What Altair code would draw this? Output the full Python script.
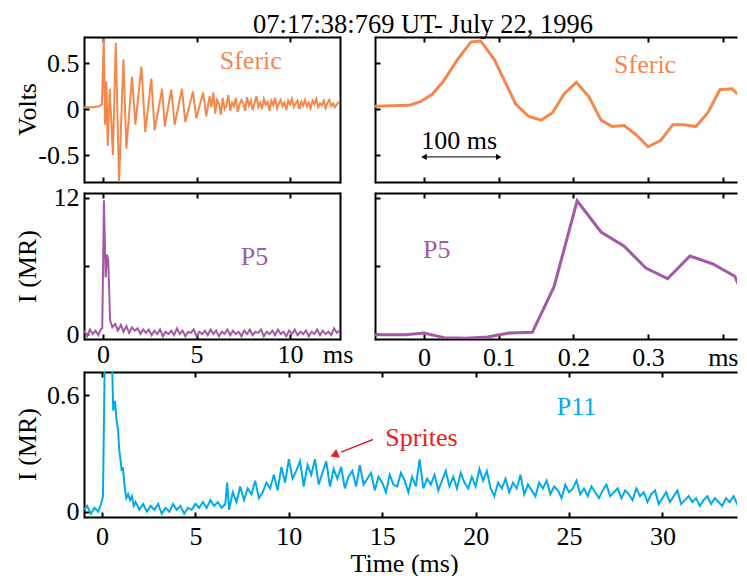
import altair as alt
import pandas as pd

FONT = "Liberation Serif"
ORANGE = "#F4874B"
PURPLE = "#A259A6"
BLUE = "#00AAEA"
RED = "#EC1C24"

TITLE = "07:17:38:769 UT- July 22, 1996"

# ---------------- data ----------------
# Sferic, full record (ms, volts)
sferic_t = [-1.05, -0.8, -0.5, -0.2, -0.06, 0.04, 0.11, 0.18, 0.25, 0.36,
            0.53, 0.68, 0.86, 1.09, 1.25, 1.55, 1.73, 2.05, 2.26, 2.58,
            2.76, 3.16, 3.30, 3.65, 3.83, 4.22, 4.40, 4.81, 4.99, 5.35,
            5.52, 5.7, 5.8, 5.9, 6.0, 6.1, 6.2, 6.3, 6.4, 6.5,
            6.6, 6.7, 6.8, 6.9, 7.0, 7.1, 7.2, 7.3, 7.4, 7.5,
            7.6, 7.7, 7.8, 7.9, 8.0, 8.1, 8.2, 8.3, 8.4, 8.5,
            8.6, 8.7, 8.8, 8.9, 9.0, 9.1, 9.2, 9.3, 9.4, 9.5,
            9.6, 9.7, 9.8, 9.9, 10.0, 10.1, 10.2, 10.3, 10.4, 10.5,
            10.6, 10.7, 10.8, 10.9, 11.0, 11.1, 11.2, 11.3, 11.4, 11.5,
            11.6, 11.7, 11.8, 11.9, 12.0, 12.1, 12.2, 12.3, 12.4, 12.6]
sferic_v = [0.02, 0.02, 0.02, 0.03, 0.05, 0.76, -0.17, 0.30, -0.40, 0.22,
            -0.50, 0.72, -0.79, 0.54, -0.43, 0.35, -0.17, 0.46, -0.25, 0.33,
            -0.23, 0.22, -0.19, 0.21, -0.17, 0.22, -0.14, 0.19, -0.10, 0.18,
            -0.08, 0.14, 0.02, 0.18, -0.05, 0.10, 0.06, -0.06, 0.12, 0.00,
            0.04, 0.15, -0.02, 0.07, 0.03, 0.12, -0.03, 0.05, 0.10, 0.06,
            -0.02, 0.13, 0.04, 0.09, -0.01, 0.06, 0.14, 0.02, 0.07, 0.00,
            0.11, 0.05, 0.08, -0.02, 0.09, 0.04, 0.12, 0.01, 0.06, 0.10,
            0.03, 0.07, -0.01, 0.09, 0.05, 0.11, 0.02, 0.06, 0.09, 0.00,
            0.08, 0.04, 0.10, 0.03, 0.07, 0.01, 0.09, 0.05, 0.11, 0.02,
            0.06, 0.04, 0.09, 0.01, 0.07, 0.10, 0.03, 0.06, 0.02, 0.08]

# Sferic, first 0.42 ms
sferic_zoom_t = [-0.066, -0.02, -0.005, 0.011, 0.025, 0.045, 0.063, 0.076, 0.094, 0.110,
                 0.123, 0.140, 0.157, 0.172, 0.188, 0.204, 0.221, 0.237, 0.252, 0.268,
                 0.284, 0.300, 0.317, 0.333, 0.348, 0.364, 0.380, 0.396, 0.412, 0.431]
sferic_zoom_v = [0.03, 0.04, 0.08, 0.16, 0.29, 0.54, 0.73, 0.74, 0.54, 0.27,
                 0.05, -0.08, -0.12, -0.04, 0.17, 0.29, 0.13, -0.12, -0.19, -0.18,
                 -0.28, -0.41, -0.34, -0.17, -0.17, -0.19, -0.04, 0.21, 0.22, 0.09]

# P5 photometer, full record (ms, MR)
p5_t = [-1.0, -0.85, -0.7, -0.55, -0.4, -0.25, -0.12, -0.04, 0.05, 0.14,
        0.22, 0.28, 0.38, 0.5, 0.65, 0.8, 0.95, 1.1, 1.25, 1.4,
        1.55, 1.7, 1.85, 2.0, 2.15, 2.3, 2.45, 2.6, 2.75, 2.9,
        3.05, 3.2, 3.35, 3.5, 3.65, 3.8, 3.95, 4.1, 4.25, 4.4,
        4.55, 4.7, 4.85, 5.0, 5.15, 5.3, 5.45, 5.6, 5.75, 5.9,
        6.05, 6.2, 6.35, 6.5, 6.65, 6.8, 6.95, 7.1, 7.25, 7.4,
        7.55, 7.7, 7.85, 8.0, 8.15, 8.3, 8.45, 8.6, 8.75, 8.9,
        9.05, 9.2, 9.35, 9.5, 9.65, 9.8, 9.95, 10.1, 10.25, 10.4,
        10.55, 10.7, 10.85, 11.0, 11.15, 11.3, 11.45, 11.6, 11.75, 11.9,
        12.05, 12.2, 12.35, 12.5, 12.65]
p5_v = [0.3, -0.2, 0.4, 0.0, 0.3, -0.1, 0.4, 0.5, 11.8, 5.0,
        7.0, 6.5, 1.2, 0.6, 0.9, 0.3, 0.8, 0.2, 0.7, 0.1,
        0.6, 0.3, 0.5, 0.0, 0.4, 0.1, 0.4, -0.1, 0.3, 0.0,
        0.4, -0.2, 0.2, 0.0, 0.3, -0.1, 0.5, 0.0, 0.3, -0.2,
        0.2, 0.1, 0.4, -0.2, 0.2, 0.0, 0.3, -0.1, 0.4, 0.0,
        0.3, -0.2, 0.2, 0.0, 0.4, -0.1, 0.3, 0.0, 0.2, -0.2,
        0.3, 0.0, 0.4, -0.1, 0.2, 0.1, 0.4, -0.2, 0.2, 0.0,
        0.3, -0.1, 0.4, 0.0, 0.2, -0.2, 0.3, 0.0, 0.4, -0.1,
        0.2, 0.0, 0.3, -0.2, 0.2, 0.0, 0.4, -0.1, 0.3, 0.0,
        0.2, -0.1, 0.5, 0.1, 0.3]

# P5, first 0.42 ms
p5_zoom_t = [-0.066, -0.025, 0.0, 0.027, 0.056, 0.085, 0.114, 0.145, 0.174, 0.205,
             0.237, 0.268, 0.297, 0.326, 0.356, 0.386, 0.416, 0.431]
p5_zoom_v = [-0.06, -0.06, 0.09, -0.32, -0.38, -0.26, 0.09, 0.15, 4.15, 11.74,
             9.0, 7.74, 5.82, 4.88, 6.88, 6.2, 5.09, 2.88]

# P11 photometer (ms, MR)
p11_t = [-0.96, -0.8, -0.6, -0.4, -0.2, -0.05, 0.05, 0.15, 0.3, 0.45,
         0.55, 0.6, 0.7, 0.78, 0.86, 0.92, 1.0, 1.05, 1.12, 1.2,
         1.3, 1.4, 1.5, 1.6, 1.7, 1.8,
         2.0, 2.2, 2.4, 2.6, 2.8, 3.0, 3.2, 3.4, 3.6, 3.8,
         4.0, 4.2, 4.4, 4.6, 4.8, 5.0, 5.2, 5.4, 5.6, 5.8,
         6.0, 6.2, 6.4, 6.6, 6.7, 6.8, 7.0, 7.2, 7.4, 7.6,
         7.8, 8.0, 8.2, 8.4, 8.6, 8.8, 9.0, 9.2, 9.4, 9.6,
         9.8, 10.0, 10.2, 10.4, 10.6, 10.8, 11.0, 11.2, 11.4, 11.6,
         11.8, 12.0, 12.2, 12.4, 12.6, 12.8, 13.0, 13.2, 13.4, 13.6,
         13.8, 14.0, 14.2, 14.4, 14.6, 14.8, 15.0, 15.2, 15.4, 15.6,
         15.8, 16.0, 16.2, 16.4, 16.6, 16.8, 17.0, 17.2, 17.4, 17.6,
         17.8, 18.0, 18.2, 18.4, 18.6, 18.8, 19.0, 19.2, 19.4, 19.6,
         19.8, 20.0, 20.2, 20.4, 20.6, 20.8, 21.0, 21.2, 21.4, 21.6,
         21.8, 22.0, 22.2, 22.4, 22.6, 22.8, 23.0, 23.2, 23.4, 23.6,
         23.8, 24.0, 24.2, 24.4, 24.6, 24.8, 25.0, 25.2, 25.4, 25.6,
         25.8, 26.0, 26.2, 26.4, 26.6, 26.8, 27.0, 27.2, 27.4, 27.6,
         27.8, 28.0, 28.2, 28.4, 28.6, 28.8, 29.0, 29.2, 29.4, 29.6,
         29.8, 30.0, 30.2, 30.4, 30.6, 30.8, 31.0, 31.2, 31.4, 31.6,
         31.8, 32.0, 32.2, 32.4, 32.6, 32.8, 33.0, 33.2, 33.4, 33.6,
         33.8, 34.0, 34.2, 34.45]
p11_v = [0.01, 0.03, -0.01, 0.02, 0.00, 0.04, 0.08, 0.80, 1.00, 0.95,
         0.72, 0.52, 0.57, 0.47, 0.42, 0.32, 0.26, 0.21, 0.23, 0.14,
         0.07, 0.09, 0.06, 0.08, 0.03, 0.05,
         0.01, 0.04, 0.00, 0.03, 0.01, 0.04, -0.01, 0.02, 0.00, 0.04,
         0.01, 0.03, -0.01, 0.02, 0.01, 0.04, 0.02, 0.05, 0.02, 0.06,
         0.03, 0.05, 0.02, 0.04, 0.15, 0.01, 0.10, 0.05, 0.13, 0.06,
         0.12, 0.09, 0.16, 0.07, 0.10, 0.15, 0.12, 0.19, 0.11, 0.23,
         0.15, 0.27, 0.17, 0.21, 0.26, 0.13, 0.24, 0.19, 0.27, 0.14,
         0.20, 0.26, 0.13, 0.22, 0.17, 0.23, 0.12, 0.18, 0.21, 0.13,
         0.24, 0.14, 0.17, 0.20, 0.11, 0.18, 0.15, 0.10, 0.19, 0.14,
         0.13, 0.20, 0.16, 0.10, 0.18, 0.13, 0.27, 0.12, 0.17, 0.14,
         0.19, 0.11, 0.16, 0.21, 0.13, 0.18, 0.12, 0.20, 0.15, 0.12,
         0.18, 0.13, 0.22, 0.16, 0.21, 0.12, 0.08, 0.15, 0.12, 0.17,
         0.10, 0.15, 0.12, 0.19, 0.09, 0.14, 0.11, 0.08, 0.15, 0.12,
         0.16, 0.09, 0.13, 0.11, 0.07, 0.14, 0.10, 0.12, 0.16, 0.09,
         0.12, 0.08, 0.13, 0.10, 0.07, 0.11, 0.14, 0.08, 0.10, 0.12,
         0.07, 0.11, 0.09, 0.06, 0.12, 0.08, 0.10, 0.05, 0.09, 0.11,
         0.04, 0.07, 0.10, 0.05, 0.08, 0.11, 0.04, 0.06, 0.08, 0.05,
         0.07, 0.03, 0.06, 0.08, 0.04, 0.07, 0.05, 0.03, 0.07, 0.05,
         0.08, 0.04, 0.06, 0.05]

# ticks and tick labels
ms_ticks_full = [0, 5, 10]
ms_labels_full = [0, 5, 10, 12.55]          # last one is the "ms" unit label
ms_ticks_zoom = [0, 0.1, 0.2, 0.3, 0.4]     # 0.4 carries the "ms" unit label
ms_ticks_p11 = [0, 5, 10, 15, 20, 25, 30]
volt_ticks = [-0.5, 0, 0.5]
p5_ticks = [0, 6, 12]
p5_labels = [0, 12]
p11_ticks = [0, 0.6]

# annotations
sferic_note = {"t": [7.9], "v": [0.52], "label": ["Sferic"]}
sferic_zoom_note = {"t": [0.296], "v": [0.48], "label": ["Sferic"]}
scale_note = {"t": [0.047], "v": [-0.35], "label": ["100 ms"]}
scale_bar = {"t": [0.0], "t2": [0.1], "v": [-0.52]}
p5_note = {"t": [8.1], "v": [6.8], "label": ["P5"]}
p5_zoom_note = {"t": [0.017], "v": [7.4], "label": ["P5"]}
p11_note = {"t": [25.4], "v": [0.54], "label": ["P11"]}
sprites_note = {"t": [17.1], "v": [0.38], "label": ["Sprites"]}
sprites_arrow = {"t": [14.5], "v": [0.372], "t2": [12.8], "v2": [0.307]}
sprites_head = {"t": [12.5], "v": [0.295]}

FS = 26
YTITLE_X = -44


def label_axis(orient, show=False, values=None, expr=None, title=None, **kw):
    cap = "square" if orient in ("left", "right") else "butt"
    d = dict(orient=orient, domain=True, domainColor="black", domainWidth=2, domainCap=cap,
             ticks=False, tickSize=0, labels=show, grid=False, labelFlush=False, labelOverlap=False,
             labelFont=FONT, labelFontSize=FS, labelColor="black",
             titleFont=FONT, titleFontSize=FS, titleFontWeight="normal", titleColor="black",
             title=title)
    if values is not None:
        d["values"] = values
    if expr is not None:
        d["labelExpr"] = expr
    d.update(kw)
    return alt.Axis(**d)


def tick_axis(orient, values):
    return alt.Axis(orient=orient, values=values, domain=False, labels=False, ticks=True,
                    tickSize=5, tickWidth=2, tickColor="black", offset=-5, grid=False, title=None)


def edge_axis(orient):
    cap = "square" if orient in ("left", "right") else "butt"
    return alt.Axis(orient=orient, domain=True, domainColor="black", domainWidth=2, domainCap=cap,
                    ticks=False, labels=False, grid=False, title=None)


def panel(df, xs, ys, w, h, xticks, yticks, xlab, ylab, right_edge, content):
    base = alt.Chart(df)

    def X(ax):
        return alt.X("t:Q", scale=xs, axis=ax)

    def Y(ax):
        return alt.Y("v:Q", scale=ys, axis=ax)

    layers = [
        base.mark_line(opacity=0, clip=True).encode(x=X(xlab), y=Y(ylab)),
        base.mark_line(opacity=0, clip=True).encode(x=X(tick_axis("bottom", xticks)),
                                                     y=Y(tick_axis("left", yticks))),
        base.mark_line(opacity=0, clip=True).encode(
            x=X(edge_axis("top")), y=Y(edge_axis("right") if right_edge else None)),
        base.mark_line(opacity=0, clip=True).encode(x=X(tick_axis("top", xticks)), y=Y(None)),
    ]
    layers += content
    return alt.layer(*layers).resolve_axis(x="independent", y="independent").properties(width=w, height=h)


def line(df, xs, ys, color, sw):
    return alt.Chart(df).mark_line(color=color, strokeWidth=sw, clip=True).encode(
        x=alt.X("t:Q", scale=xs, axis=None), y=alt.Y("v:Q", scale=ys, axis=None))


def note(d, xs, ys, color):
    return alt.Chart(pd.DataFrame(d)).mark_text(font=FONT, fontSize=FS, color=color).encode(
        x=alt.X("t:Q", scale=xs, axis=None), y=alt.Y("v:Q", scale=ys, axis=None), text="label:N")


# scales (right-hand panels are cut off at the right edge, as in the figure)
xs_full = alt.Scale(domain=[-1.016, 12.67], nice=False, zero=False)
xs_zoom = alt.Scale(domain=[-0.0656, 0.419], nice=False, zero=False)
xs_p11 = alt.Scale(domain=[-0.964, 33.99], nice=False, zero=False)
ys_volt = alt.Scale(domain=[-0.793, 0.783], nice=False, zero=False)
ys_p5 = alt.Scale(domain=[-0.44, 12.44], nice=False, zero=False)
ys_p11 = alt.Scale(domain=[-0.027, 0.719], nice=False, zero=False)

W_LEFT, W_RIGHT, W_BOT = 256, 362, 653

df_sf = pd.DataFrame({"t": sferic_t, "v": sferic_v})
df_sfz = pd.DataFrame({"t": sferic_zoom_t, "v": sferic_zoom_v})
df_p5 = pd.DataFrame({"t": p5_t, "v": p5_v})
df_p5z = pd.DataFrame({"t": p5_zoom_t, "v": p5_zoom_v})
df_p11 = pd.DataFrame({"t": p11_t, "v": p11_v})

TL = panel(df_sf, xs_full, ys_volt, W_LEFT, 145, ms_ticks_full, volt_ticks,
           label_axis("bottom"),
           label_axis("left", True, volt_ticks, "toString(datum.value)", "Volts",
                      labelPadding=5, titleX=YTITLE_X, titleY=72),
           True,
           [line(df_sf, xs_full, ys_volt, ORANGE, 2), note(sferic_note, xs_full, ys_volt, ORANGE)])

bar = alt.Chart(pd.DataFrame(scale_bar)).mark_rule(color="black", strokeWidth=1).encode(
    x=alt.X("t:Q", scale=xs_zoom, axis=None), x2="t2:Q", y=alt.Y("v:Q", scale=ys_volt, axis=None))
bar_l = alt.Chart(pd.DataFrame({"t": scale_bar["t"], "v": scale_bar["v"]})).mark_point(
    shape="triangle-left", filled=True, color="black", size=40, opacity=1).encode(
    x=alt.X("t:Q", scale=xs_zoom, axis=None), y=alt.Y("v:Q", scale=ys_volt, axis=None))
bar_r = alt.Chart(pd.DataFrame({"t": scale_bar["t2"], "v": scale_bar["v"]})).mark_point(
    shape="triangle-right", filled=True, color="black", size=40, opacity=1).encode(
    x=alt.X("t:Q", scale=xs_zoom, axis=None), y=alt.Y("v:Q", scale=ys_volt, axis=None))

TR = panel(df_sfz, xs_zoom, ys_volt, W_RIGHT, 145, ms_ticks_zoom, volt_ticks,
           label_axis("bottom"), label_axis("left"), False,
           [line(df_sfz, xs_zoom, ys_volt, ORANGE, 3), note(sferic_zoom_note, xs_zoom, ys_volt, ORANGE),
            note(scale_note, xs_zoom, ys_volt, "black"), bar, bar_l, bar_r])

ML = panel(df_p5, xs_full, ys_p5, W_LEFT, 146, ms_ticks_full, p5_ticks,
           label_axis("bottom", True, ms_labels_full,
                      "datum.value > 12 ? 'ms' : toString(datum.value)", labelPadding=2),
           label_axis("left", True, p5_labels, "toString(datum.value)", "I (MR)",
                      labelPadding=5, titleX=YTITLE_X, titleY=73),
           True,
           [line(df_p5, xs_full, ys_p5, PURPLE, 2), note(p5_note, xs_full, ys_p5, PURPLE)])

MR = panel(df_p5z, xs_zoom, ys_p5, W_RIGHT, 146, ms_ticks_zoom, p5_ticks,
           label_axis("bottom", True, ms_ticks_zoom,
                      "datum.value > 0.35 ? 'ms' : toString(datum.value)", labelPadding=5),
           label_axis("left"), False,
           [line(df_p5z, xs_zoom, ys_p5, PURPLE, 3), note(p5_zoom_note, xs_zoom, ys_p5, PURPLE)])

arrow = alt.Chart(pd.DataFrame(sprites_arrow)).mark_rule(color=RED, strokeWidth=1.5).encode(
    x=alt.X("t:Q", scale=xs_p11, axis=None), x2="t2:Q",
    y=alt.Y("v:Q", scale=ys_p11, axis=None), y2="v2:Q")
head = alt.Chart(pd.DataFrame(sprites_head)).mark_point(
    shape="triangle", filled=True, color=RED, size=90, angle=247, opacity=1).encode(
    x=alt.X("t:Q", scale=xs_p11, axis=None), y=alt.Y("v:Q", scale=ys_p11, axis=None))

BOT = panel(df_p11, xs_p11, ys_p11, W_BOT, 145, ms_ticks_p11, p11_ticks,
            label_axis("bottom", True, ms_ticks_p11, "toString(datum.value)", "Time (ms)",
                       labelPadding=6, titleX=320, titleY=33, titleBaseline="top"),
            label_axis("left", True, p11_ticks, "toString(datum.value)", "I (MR)",
                       labelPadding=5, titleX=YTITLE_X, titleY=72),
            False,
            [line(df_p11, xs_p11, ys_p11, BLUE, 2), note(p11_note, xs_p11, ys_p11, BLUE),
             note(sprites_note, xs_p11, ys_p11, RED), arrow, head])

row1 = alt.hconcat(TL, TR, spacing=35, bounds="flush")
row2 = alt.hconcat(ML, MR, spacing=35, bounds="flush")
upper = alt.vconcat(row1, row2, spacing=1)

chart = alt.vconcat(upper, BOT, spacing=1).properties(
    title=alt.TitleParams(TITLE, font=FONT, fontSize=26.5, fontWeight="normal", color="black",
                          anchor="middle", offset=-2, dx=47),
    padding={"left": 6, "top": 3, "right": 0, "bottom": 0},
).configure_view(stroke=None)

chart.save("out.html", embed_options={"renderer": "svg", "actions": False})
